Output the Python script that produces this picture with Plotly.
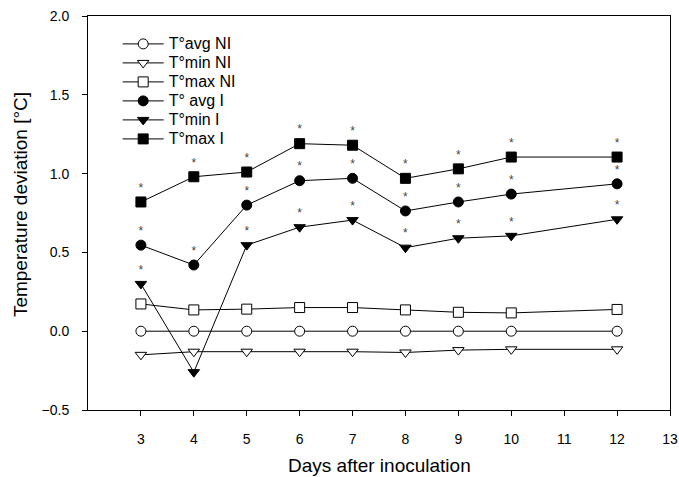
import plotly.graph_objects as go

days = [3, 4, 5, 6, 7, 8, 9, 10, 12]
avg_ni = [0.0, 0.0, 0.0, 0.0, 0.0, 0.0, 0.0, 0.0, 0.0]
min_ni = [-0.15, -0.13, -0.13, -0.13, -0.13, -0.135, -0.12, -0.115, -0.115]
max_ni = [0.173, 0.135, 0.14, 0.15, 0.15, 0.135, 0.12, 0.116, 0.138]
avg_i = [0.546, 0.42, 0.80, 0.955, 0.97, 0.763, 0.82, 0.87, 0.935]
min_i = [0.30, -0.26, 0.546, 0.66, 0.705, 0.53, 0.59, 0.605, 0.71]
max_i = [0.82, 0.98, 1.01, 1.19, 1.18, 0.97, 1.03, 1.105, 1.105]
avg_i_sig = ["*", "*", "*", "*", "*", "*", "*", "*", "*"]
min_i_sig = ["*", "", "*", "*", "*", "*", "*", "*", "*"]
max_i_sig = ["*", "*", "*", "*", "*", "*", "*", "*", "*"]
x_ticks = [3, 4, 5, 6, 7, 8, 9, 10, 11, 12, 13]
y_ticks = [-0.5, 0.0, 0.5, 1.0, 1.5, 2.0]
x_title = "Days after inoculation"
y_title = "Temperature deviation [°C]"

FONT = "Liberation Sans, Arial, sans-serif"

fig = go.Figure()

def add(name, y, symbol, filled, size, sig=None):
    mode = "lines+markers" + ("+text" if sig else "")
    fig.add_trace(go.Scatter(
        x=days, y=y, mode=mode,
        name='<span style="font-size:16px">' + name + '</span>',
        line=dict(color="black", width=1),
        marker=dict(symbol=symbol, size=size,
                    color="black" if filled else "white",
                    line=dict(color="black", width=1)),
        text=sig if sig else None,
        textposition="top center",
        textfont=dict(size=12, color="#454545", family=FONT),
        cliponaxis=False,
    ))

add("T°avg NI", avg_ni, "circle", False, 10)
add("T°min NI", min_ni, "triangle-down", False, 10)
add("T°max NI", max_ni, "square", False, 10)
add("T° avg I", avg_i, "circle", True, 10, avg_i_sig)
add("T°min I", min_i, "triangle-down", True, 10, min_i_sig)
add("T°max I", max_i, "square", True, 10, max_i_sig)

fig.update_layout(
    width=679, height=477,
    margin=dict(l=88, r=9, t=16, b=67),
    paper_bgcolor="white", plot_bgcolor="white",
    font=dict(family=FONT, size=14, color="black"),
    showlegend=True,
    legend=dict(x=0.051, y=0.966, xanchor="left", yanchor="top",
                bgcolor="rgba(0,0,0,0)", font=dict(size=12, family=FONT),
                itemwidth=41, tracegroupgap=0),
    annotations=[
        dict(text=x_title, xref="paper", yref="paper", x=0.5, y=-0.142,
             xanchor="center", yanchor="middle", showarrow=False,
             font=dict(size=19, family=FONT)),
        dict(text=y_title, xref="paper", yref="paper", x=(20 - 88) / 582,
             y=0.52, xanchor="center", yanchor="middle", showarrow=False,
             textangle=-90, font=dict(size=19, family=FONT)),
    ],
)
fig.update_xaxes(
    range=[2, 13], tickvals=x_ticks, ticks="outside", ticklen=5, tickwidth=1,
    tickcolor="black", showline=True, linecolor="black", linewidth=1,
    mirror=True, showgrid=False, zeroline=False, ticklabelstandoff=11,
    tickfont=dict(size=14), automargin=False,
)
fig.update_yaxes(
    range=[-0.5, 2.0], tickvals=y_ticks, tickformat=".1f", ticks="outside",
    ticklen=5, tickwidth=1, tickcolor="black", showline=True,
    linecolor="black", linewidth=1, mirror=True, showgrid=False,
    zeroline=False, ticklabelstandoff=10, tickfont=dict(size=14),
    automargin=False,
)

fig.write_html("out.html", config={"displayModeBar": False},
               post_script="document.body.style.margin='0';document.body.style.padding='0';")
